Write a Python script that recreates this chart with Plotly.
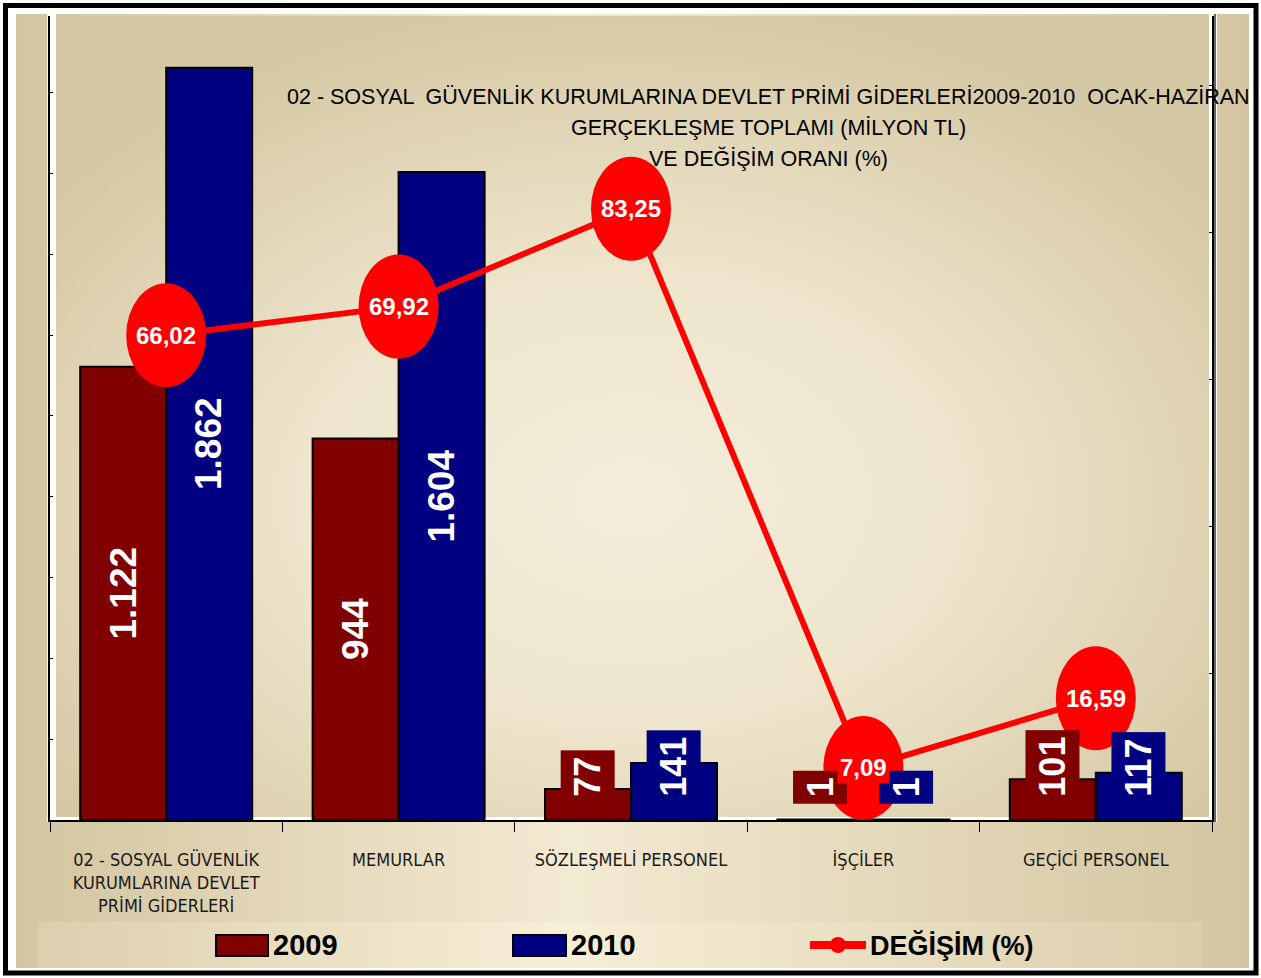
import base64
import plotly.graph_objects as go

# --- data ---
categories = ["02 - SOSYAL GÜVENLİK<br>KURUMLARINA DEVLET<br>PRİMİ GİDERLERİ",
              "MEMURLAR", "SÖZLEŞMELİ PERSONEL", "İŞÇİLER", "GEÇİCİ PERSONEL"]
y2009 = [1122, 944, 77, 1, 101]
y2010 = [1862, 1604, 141, 1, 117]
degisim = [66.02, 69.92, 83.25, 7.09, 16.59]
series_names = ["2009", "2010", "DEĞİŞİM (%)"]
title_lines = ["02 - SOSYAL  GÜVENLİK KURUMLARINA DEVLET PRİMİ GİDERLERİ2009-2010  OCAK-HAZİRAN",
               "GERÇEKLEŞME TOPLAMI (MİLYON TL)",
               "VE DEĞİŞİM ORANI (%)"]

W, H = 1261, 978
L, R, T, B = 50, 49, 16, 158
PW, PH = W - L - R, H - T - B

C2009, C2010, CRED = "#800000", "#000080", "#FF0000"
ARIAL = "Liberation Sans, Arial, sans-serif"
COND = "DejaVu Sans Condensed, Liberation Sans Narrow, Liberation Sans, sans-serif"


def px_x(p):
    return (p - L) / PW


def px_y(p):
    return (H - B - p) / PH


def svg_uri(svg):
    return "data:image/svg+xml;base64," + base64.b64encode(svg.encode()).decode()


outer_bg = svg_uri(
    '<svg xmlns="http://www.w3.org/2000/svg" width="100" height="100" preserveAspectRatio="none">'
    '<defs><linearGradient id="g" x1="0" y1="0" x2="1" y2="0">'
    '<stop offset="0" stop-color="#D3C5A0"/><stop offset="0.45" stop-color="#F3EAD2"/>'
    '<stop offset="1" stop-color="#D3C5A0"/></linearGradient></defs>'
    '<rect width="100" height="100" fill="url(#g)"/></svg>')
plot_bg = svg_uri(
    '<svg xmlns="http://www.w3.org/2000/svg" width="100" height="100" preserveAspectRatio="none">'
    '<defs><radialGradient id="r" cx="0.5" cy="0.6" r="0.62">'
    '<stop offset="0" stop-color="#F4EDDA"/><stop offset="0.45" stop-color="#EEE5CC"/>'
    '<stop offset="1" stop-color="#D5C8A4"/></radialGradient></defs>'
    '<rect width="100" height="100" fill="url(#r)"/></svg>')
band_bg = svg_uri(
    '<svg xmlns="http://www.w3.org/2000/svg" width="100" height="100" preserveAspectRatio="none">'
    '<defs><linearGradient id="b" x1="0" y1="0" x2="1" y2="0">'
    '<stop offset="0" stop-color="#DCCFAE"/><stop offset="0.45" stop-color="#F7EED6"/>'
    '<stop offset="1" stop-color="#DBCEAC"/></linearGradient></defs>'
    '<rect width="100" height="100" fill="url(#b)"/></svg>')

fig = go.Figure()
fig.add_trace(go.Bar(x=categories, y=y2009, name=series_names[0],
                     marker=dict(color=C2009, line=dict(color="black", width=2))))
fig.add_trace(go.Bar(x=categories, y=y2010, name=series_names[1],
                     marker=dict(color=C2010, line=dict(color="black", width=2))))
fig.add_trace(go.Scatter(x=categories, y=degisim, name=series_names[2], yaxis="y2",
                         mode="lines", line=dict(color=CRED, width=6)))

shapes = []
annotations = []

# white separators round the axes
shapes.append(dict(type="rect", xref="paper", yref="paper", x0=px_x(47), x1=px_x(56),
                   y0=px_y(822), y1=px_y(14), fillcolor="white", line_width=0, layer="below"))
shapes.append(dict(type="rect", xref="paper", yref="paper", x0=px_x(1209), x1=px_x(1217),
                   y0=px_y(822), y1=px_y(14), fillcolor="white", line_width=0, layer="below"))
shapes.append(dict(type="rect", xref="paper", yref="paper", x0=px_x(50), x1=px_x(1212),
                   y0=px_y(822), y1=px_y(817), fillcolor="white", line_width=0, layer="below"))
shapes.append(dict(type="line", xref="paper", yref="paper", x0=px_x(1215), x1=px_x(1215),
                   y0=px_y(822), y1=px_y(14), line=dict(color="#333", width=1.5)))
# outer frame
shapes.append(dict(type="rect", xref="paper", yref="paper", x0=px_x(5.5), x1=px_x(1256),
                   y0=px_y(973), y1=px_y(5.5), line=dict(color="black", width=5)))

# ellipse markers on the change line
for i, v in enumerate(degisim):
    shapes.append(dict(type="circle", xref="x", yref="y2", xsizemode="pixel", ysizemode="pixel",
                       xanchor=i, yanchor=v, x0=-40, x1=40, y0=-52, y1=52,
                       fillcolor=CRED, line_width=0, layer="above"))

# bar value labels
for vals, col, off in [(y2009, C2009, -0.185), (y2010, C2010, 0.185)]:
    for i, v in enumerate(vals):
        txt = "<b>" + f"{v:,}".replace(",", ".") + "</b>"
        if v > 300:
            annotations.append(dict(x=i + off, y=v / 2, xref="x", yref="y", text=txt,
                                    textangle=-90, showarrow=False,
                                    font=dict(family=ARIAL, size=37, color="white")))
        else:
            annotations.append(dict(x=i + off, y=40, xref="x", yref="y", text=txt,
                                    textangle=-90, showarrow=False, yanchor="bottom",
                                    bgcolor=col, borderpad=6,
                                    font=dict(family=ARIAL, size=36, color="white")))

# change labels
for i, v in enumerate(degisim):
    annotations.append(dict(x=i, y=v, xref="x", yref="y2",
                            text="<b>" + f"{v:.2f}".replace(".", ",") + "</b>",
                            showarrow=False, bgcolor=CRED, borderpad=2,
                            font=dict(family=ARIAL, size=24, color="white")))

# title, one annotation per line to get the wider line spacing
for line, yp in zip(title_lines, [97, 128, 158]):
    annotations.append(dict(x=px_x(768), y=px_y(yp), xref="paper", yref="paper",
                            xanchor="center", yanchor="middle", showarrow=False,
                            text=line, font=dict(family=ARIAL, size=21.5, color="black")))

# legend (drawn)
shapes.append(dict(type="rect", xref="paper", yref="paper", x0=px_x(216), x1=px_x(268),
                   y0=px_y(956), y1=px_y(935), fillcolor=C2009, line=dict(color="black", width=2)))
shapes.append(dict(type="rect", xref="paper", yref="paper", x0=px_x(513), x1=px_x(566),
                   y0=px_y(956), y1=px_y(935), fillcolor=C2010, line=dict(color="black", width=2)))
shapes.append(dict(type="line", xref="paper", yref="paper", x0=px_x(810), x1=px_x(866),
                   y0=px_y(945), y1=px_y(945), line=dict(color=CRED, width=8)))
shapes.append(dict(type="circle", xref="paper", yref="paper", x0=px_x(830), x1=px_x(846),
                   y0=px_y(953), y1=px_y(937), fillcolor=CRED, line_width=0))
for name, xp, fs in zip(series_names, [271, 569, 868], [29, 29, 27]):
    annotations.append(dict(x=px_x(xp), y=px_y(945), xref="paper", yref="paper",
                            xanchor="left", yanchor="middle", showarrow=False,
                            text="<b>" + name + "</b>",
                            font=dict(family=ARIAL, size=fs, color="black")))

fig.update_layout(
    width=W, height=H,
    margin=dict(l=L, r=R, t=T, b=B, autoexpand=False),
    paper_bgcolor="white",
    plot_bgcolor="rgba(0,0,0,0)",
    barmode="group", bargap=0.26, bargroupgap=0,
    showlegend=False,
    xaxis=dict(type="category", range=[-0.5, 4.5], tickson="boundaries", ticks="outside",
               ticklen=10, tickcolor="black", showline=True, linecolor="black", linewidth=2,
               showgrid=False, ticklabelstandoff=22, tickangle=0, automargin=False,
               tickfont=dict(family=COND, size=18, color="#1a1a1a")),
    yaxis=dict(range=[0, 1990], dtick=200, showgrid=False, zeroline=False, showline=True,
               linecolor="black", linewidth=2, ticks="inside", ticklen=3, tickcolor="black",
               showticklabels=False, automargin=False),
    yaxis2=dict(range=[0, 109.5], dtick=20, overlaying="y", side="right", showgrid=False,
                zeroline=False, showline=True, linecolor="black", linewidth=2,
                ticks="inside", ticklen=3, tickcolor="black", showticklabels=False,
                automargin=False),
    images=[
        dict(source=outer_bg, xref="paper", yref="paper", x=px_x(16), y=px_y(14),
             sizex=px_x(1249) - px_x(16), sizey=px_y(14) - px_y(968),
             sizing="stretch", layer="below"),
        dict(source=band_bg, xref="paper", yref="paper", x=px_x(38), y=px_y(922),
             sizex=px_x(1202) - px_x(38), sizey=px_y(922) - px_y(968),
             sizing="stretch", layer="below"),
        dict(source=plot_bg, xref="paper", yref="paper", x=0, y=1, sizex=1, sizey=1,
             sizing="stretch", layer="below"),
    ],
    shapes=shapes,
    annotations=annotations,
)

# the page's default body margin would push the chart off the window
fig.write_html("out.html", config={"displayModeBar": False},
               post_script="document.body.style.margin='0';")
